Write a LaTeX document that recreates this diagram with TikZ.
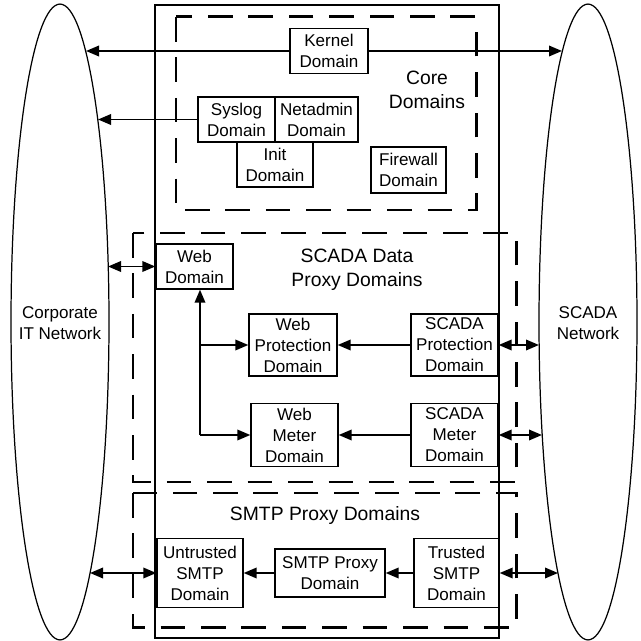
\documentclass[tikz,border=0pt]{standalone}
\usepackage{fontspec}
\setmainfont{Liberation Sans}
\usetikzlibrary{arrows.meta}

\begin{document}
\begin{tikzpicture}[x=0.02cm,y=-0.02cm,
  every node/.style={font=\fontsize{9.7}{11.9}\selectfont,align=center},
  dom/.style 2 args={draw,line width=0.8pt,inner sep=0pt,minimum width=#1,minimum height=#2},
  grouplbl/.style={font=\fontsize{11}{13.6}\selectfont},
  zone/.style={line width=1.7pt,dash pattern=on 14pt off 9pt},
  arr/.style={-{Triangle[length=7.4pt,width=6pt]},line width=1pt},
  darr/.style={{Triangle[length=7.4pt,width=6pt]}-{Triangle[length=7.4pt,width=6pt]},line width=1pt}]
\useasboundingbox (0,0) rectangle (641,641);
% networks on both sides
\draw[line width=0.7pt] (60,322) ellipse [x radius=0.98cm,y radius=6.36cm];
\draw[line width=0.7pt] (588,322) ellipse [x radius=0.98cm,y radius=6.36cm];
\node (corp) at (60,323) {Corporate\\IT Network};
\node (scadanet) at (588,323) {SCADA\\Network};
% the host and its domain groups
\draw[line width=1pt] (155,5) rectangle (499,638);
\draw[zone] (176,17) rectangle (476,210);
\draw[zone] (133,233) rectangle (516,482);
\draw[zone] (133,493) rectangle (516,627);
\node[grouplbl] (corelbl) at (427,90) {Core\\Domains};
\node[grouplbl] (proxylbl) at (357,270) {SCADA Data\\Proxy Domains};
\node[grouplbl] (smtplbl) at (325,515) {SMTP Proxy Domains};
% core domains
\node[dom={1.56cm}{0.9cm}] (kernel) at (329,51) {Kernel\\Domain};
\node[dom={1.54cm}{0.9cm}] (syslog) at (236.5,119.5) {Syslog\\Domain};
\node[dom={1.66cm}{0.9cm}] (netadmin) at (316.5,119.5) {Netadmin\\Domain};
\node[dom={1.52cm}{0.9cm}] (init) at (275,164.5) {Init\\Domain};
\node[dom={1.5cm}{0.92cm}] (firewall) at (408.5,170) {Firewall\\Domain};
% scada data proxy domains
\node[dom={1.54cm}{0.9cm}] (web) at (194.5,266.5) {Web\\Domain};
\node[dom={1.76cm}{1.24cm}] (webprot) at (293,345) {Web\\Protection\\Domain};
\node[dom={1.74cm}{1.26cm}] (webmeter) at (294.5,435) {Web\\Meter\\Domain};
\node[dom={1.74cm}{1.24cm}] (scadaprot) at (454.5,345) {SCADA\\Protection\\Domain};
\node[dom={1.74cm}{1.26cm}] (scadameter) at (454.5,435) {SCADA\\Meter\\Domain};
% smtp proxy domains
\node[dom={1.72cm}{1.38cm}] (untrusted) at (200,573) {Untrusted\\SMTP\\Domain};
\node[dom={2.2cm}{0.96cm}] (smtpproxy) at (330,573) {SMTP Proxy\\Domain};
\node[dom={1.7cm}{1.38cm}] (trusted) at (456.5,573) {Trusted\\SMTP\\Domain};
% where the connectors meet the networks
\coordinate (corpK) at (86,51);
\coordinate (corpS) at (98,119.5);
\coordinate (corpW) at (108,266.5);
\coordinate (corpM) at (90,573);
\coordinate (scadaK) at (562,51);
\coordinate (scadaP) at (539,345);
\coordinate (scadaM) at (542,435);
\coordinate (scadaT) at (558,573);
\coordinate (trunk) at (200,435);
% connectors
\draw[arr] (kernel.west) -- (corpK);
\draw[arr] (kernel.east) -- (scadaK);
\draw[arr] (syslog.west) -- (corpS);
\draw[darr] (corpW) -- (web.west);
\draw[arr] (trunk) -- (trunk |- web.south);
\draw[arr] (trunk |- webprot.west) -- (webprot.west);
\draw[arr] (trunk) -- (webmeter.west);
\draw[arr] (scadaprot.west) -- (webprot.east);
\draw[arr] (scadameter.west) -- (webmeter.east);
\draw[darr] (scadaprot.east) -- (scadaP);
\draw[darr] (scadameter.east) -- (scadaM);
\draw[darr] (corpM) -- (untrusted.west);
\draw[arr] (smtpproxy.west) -- (untrusted.east);
\draw[arr] (trusted.west) -- (smtpproxy.east);
\draw[darr] (trusted.east) -- (scadaT);
\end{tikzpicture}
\end{document}
